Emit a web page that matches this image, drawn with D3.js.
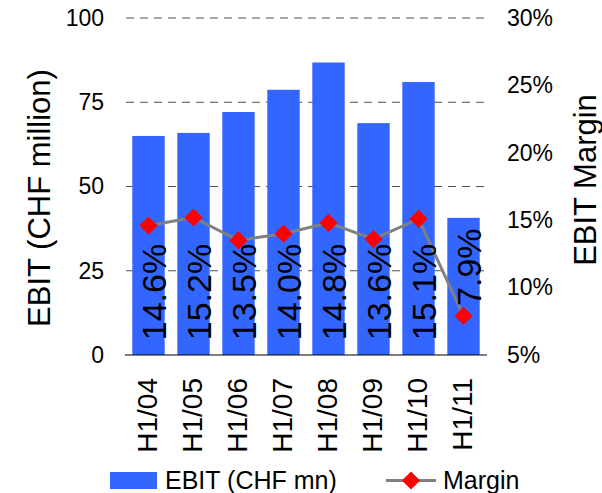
<!DOCTYPE html>
<html>
<head>
<meta charset="utf-8">
<script src="https://cdn.jsdelivr.net/npm/d3@7"></script>
<style>
  html, body { margin: 0; padding: 0; background: #ffffff; }
  svg { display: block; font-family: "Liberation Sans", Arial, sans-serif; }
</style>
</head>
<body>
<svg id="chart" width="602" height="493"></svg>
<script>
const categories = ["H1/04", "H1/05", "H1/06", "H1/07", "H1/08", "H1/09", "H1/10", "H1/11"];
const ebit = [65.0, 65.9, 72.1, 78.7, 86.8, 68.8, 81.0, 40.7];
const margin = [14.6, 15.2, 13.5, 14.0, 14.8, 13.6, 15.1, 7.9];
const leftTicks = [0, 25, 50, 75, 100];
const rightTicks = [5, 10, 15, 20, 25, 30];
const seriesNames = ["EBIT (CHF mn)", "Margin"];

const svg = d3.select("#chart");
const plot = { left: 126, right: 486, top: 18, bottom: 355 };
const barColor = "#3366FF";
const FONT = "Liberation Sans, Arial, sans-serif";

const x = d3.scaleBand().domain(categories).range([plot.left, plot.right])
  .paddingInner(0.28).paddingOuter(0.14);
const y = d3.scaleLinear().domain([0, 100]).range([plot.bottom, plot.top]);
const y2 = d3.scaleLinear().domain([5, 30]).range([plot.bottom, plot.top]);

// gridlines
svg.append("g").selectAll("line").data(leftTicks.filter(d => d > 0)).join("line")
  .attr("x1", plot.left).attr("x2", plot.right)
  .attr("y1", d => y(d)).attr("y2", d => y(d))
  .attr("stroke", "#505050").attr("stroke-width", 1).attr("stroke-dasharray", "8,6");

// bars
svg.append("g").selectAll("rect").data(ebit).join("rect")
  .attr("x", (d, i) => x(categories[i]))
  .attr("width", x.bandwidth())
  .attr("y", d => y(d))
  .attr("height", d => y(0) - y(d))
  .attr("fill", barColor);

// baseline
svg.append("line").attr("x1", plot.left - 1).attr("x2", plot.right + 1)
  .attr("y1", y(0)).attr("y2", y(0)).attr("stroke", "#000").attr("stroke-width", 1.2);

// left axis
const leftAxis = d3.axisLeft(y).tickValues(leftTicks).tickSize(0).tickPadding(22);
const gl = svg.append("g").attr("transform", `translate(${plot.left},0)`).call(leftAxis);
gl.select(".domain").remove();
gl.selectAll("text").attr("font-size", 23).attr("fill", "#000").attr("font-family", FONT);

// right axis
const rightAxis = d3.axisRight(y2).tickValues(rightTicks).tickSize(0).tickPadding(21).tickFormat(d => d + "%");
const gr = svg.append("g").attr("transform", `translate(${plot.right},0)`).call(rightAxis);
gr.select(".domain").remove();
gr.selectAll("text").attr("font-size", 23).attr("fill", "#000").attr("font-family", FONT);

// x axis labels (rotated)
const bx = d3.axisBottom(x).tickSize(0).tickPadding(0);
const gx = svg.append("g").attr("transform", `translate(0,${plot.bottom})`).call(bx);
gx.select(".domain").remove();
gx.selectAll("text")
  .attr("font-size", 28).attr("fill", "#000").attr("font-family", FONT)
  .attr("transform", "rotate(-90)")
  .attr("text-anchor", "end")
  .attr("x", -23).attr("y", 0).attr("dy", "0.3em");

// margin line
const line = d3.line().x((d, i) => x(categories[i]) + x.bandwidth() / 2).y(d => y2(d));
svg.append("path").datum(margin).attr("d", line)
  .attr("fill", "none").attr("stroke", "#808080").attr("stroke-width", 3);

// value labels (rotated, inside bars)
const labelFont = 34;
const labelG = svg.append("g");
margin.forEach((m, i) => {
  const cx = x(categories[i]) + x.bandwidth() / 2;
  const t = labelG.append("text")
    .attr("font-size", labelFont).attr("fill", "#000").attr("font-family", FONT)
    .text(m.toFixed(1) + "%");
  const L = t.node().getComputedTextLength();
  const centerY = 292;
  const my = y2(m);
  let startY = centerY + L / 2;
  if (my > centerY - L / 2 && my < centerY + L / 2 + 10) {
    startY = my - 10;
  }
  t.attr("transform", `translate(${cx + 17},${startY}) rotate(-90)`)
    .attr("text-anchor", "start");
});

// markers
const diamond = d3.symbol().type(d3.symbolDiamond2).size(210);
svg.append("g").selectAll("path").data(margin).join("path")
  .attr("d", diamond)
  .attr("transform", (d, i) => `translate(${x(categories[i]) + x.bandwidth() / 2},${y2(d)})`)
  .attr("fill", "#FF0000");

// axis titles
svg.append("text").attr("transform", `translate(50,198) rotate(-90)`)
  .attr("text-anchor", "middle").attr("font-size", 31).attr("fill", "#000").attr("font-family", FONT)
  .text("EBIT (CHF million)");
svg.append("text").attr("transform", `translate(596,180) rotate(-90)`)
  .attr("text-anchor", "middle").attr("font-size", 31).attr("fill", "#000").attr("font-family", FONT)
  .text("EBIT Margin");

// legend
const lg = svg.append("g");
lg.append("rect").attr("x", 110).attr("y", 472).attr("width", 47).attr("height", 17).attr("fill", barColor);
lg.append("text").attr("x", 165).attr("y", 489).attr("font-size", 25).attr("fill", "#000").attr("font-family", FONT).text(seriesNames[0]);
lg.append("line").attr("x1", 386).attr("x2", 436).attr("y1", 480.5).attr("y2", 480.5)
  .attr("stroke", "#808080").attr("stroke-width", 3);
lg.append("path").attr("d", diamond).attr("transform", "translate(411,480.5)").attr("fill", "#FF0000");
lg.append("text").attr("x", 443).attr("y", 489).attr("font-size", 25).attr("fill", "#000").attr("font-family", FONT).text(seriesNames[1]);
</script>
</body>
</html>
